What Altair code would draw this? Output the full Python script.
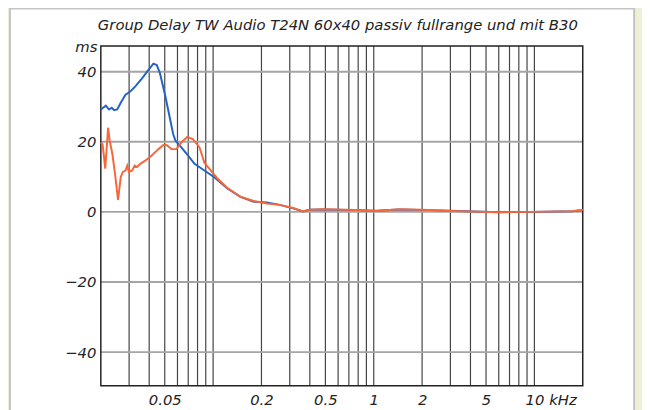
import altair as alt
import pandas as pd

# ---- data ----
blue_f = [0.0200, 0.0215, 0.0225, 0.0234, 0.0242, 0.0253, 0.0266, 0.0285, 0.0306, 0.0328,
          0.0361, 0.0396, 0.0425, 0.0446, 0.0467, 0.0502, 0.0538, 0.0564, 0.0583, 0.0634,
          0.0697, 0.0766, 0.0883, 0.1017, 0.1227, 0.148, 0.179, 0.216, 0.260, 0.315,
          0.363, 0.398, 0.486, 0.777, 1.04, 1.44, 2.23, 2.99, 6.04, 9.65, 17.2, 20.0]
blue_ms = [29.2, 30.3, 29.2, 29.7, 29.0, 29.2, 31.1, 33.4, 34.4, 35.8,
           38.1, 40.5, 42.3, 41.9, 39.5, 33.4, 26.8, 22.2, 20.3, 18.4,
           16.1, 13.7, 11.8, 9.9, 6.7, 4.3, 2.9, 2.7, 2.0, 1.0,
           0.1, 0.6, 0.7, 0.5, 0.3, 0.7, 0.5, 0.3, -0.1, 0.0, 0.2, 0.5]

orange_f = [0.0200, 0.0205, 0.0210, 0.0213, 0.0217, 0.0222, 0.0227, 0.0236, 0.0245, 0.0256,
            0.0266, 0.0274, 0.0285, 0.0292, 0.0299, 0.0313, 0.0325, 0.0336, 0.0352, 0.0378,
            0.0415, 0.0456, 0.0490, 0.0513, 0.0551, 0.0591, 0.0634, 0.0690, 0.0748, 0.0823,
            0.0883, 0.0969, 0.1065, 0.1227, 0.148, 0.179, 0.216, 0.260, 0.315, 0.363,
            0.398, 0.486, 0.777, 1.04, 1.44, 2.23, 2.99, 6.04, 9.65, 17.2, 19.6, 20.0]
orange_ms = [19.8, 19.3, 15.1, 12.3, 17.5, 24.0, 20.3, 16.5, 10.9, 3.4,
             9.9, 11.4, 11.8, 13.2, 11.4, 11.8, 13.2, 12.8, 13.7, 14.6,
             16.1, 17.9, 19.1, 19.1, 17.9, 17.9, 19.8, 21.4, 20.8, 18.4,
             14.0, 11.8, 9.5, 6.8, 4.3, 3.1, 2.4, 2.0, 1.1, 0.1,
             0.6, 0.75, 0.56, 0.28, 0.75, 0.56, 0.28, -0.1, 0.0, 0.2, 0.56, 0.6]

x_grid = [0.03, 0.04, 0.05, 0.06, 0.07, 0.08, 0.09,
          0.1, 0.2, 0.3, 0.4, 0.5, 0.6, 0.7, 0.8, 0.9,
          1, 2, 3, 4, 5, 6, 7, 8, 9, 10]
x_labels = [0.05, 0.2, 0.5, 1, 2, 5, 10]
y_ticks = [40, 20, 0, -20, -40]
title_text = "Group Delay TW Audio T24N 60x40 passiv fullrange und mit B30"
unit_text = "kHz"

W, H = 488, 344
FONT = "DejaVu Sans"
TXT = "#222222"

xscale = alt.Scale(type="log", domain=[0.02, 20], nice=False)
yscale = alt.Scale(domain=[-49.6, 47.3], nice=False, zero=False)

blue_df = pd.DataFrame({"f": blue_f, "ms": blue_ms})
orange_df = pd.DataFrame({"f": orange_f, "ms": orange_ms})
vgrid_df = pd.DataFrame({"f": x_grid})
hgrid_df = pd.DataFrame({"ms": y_ticks})
one = pd.DataFrame({"k": [0]})

panel = alt.Chart(one).mark_rect(fill="white", stroke="#c4c4c4", strokeWidth=2).encode(
    x=alt.value(-92), x2=alt.value(540), y=alt.value(-38), y2=alt.value(420)
)

vgrid = alt.Chart(vgrid_df).mark_rule(color="#444444", strokeWidth=1.2).encode(
    x=alt.X("f:Q", scale=xscale,
            axis=alt.Axis(values=x_labels, labelExpr="format(datum.value, '~g')",
                          title=None, grid=False, ticks=False, domain=False, zindex=2,
                          labelFont=FONT, labelFontStyle="italic", labelFontSize=15,
                          labelColor=TXT, labelPadding=7, labelBaseline="top")),
)

hgrid = alt.Chart(hgrid_df).mark_rule(color="#a5a5a5", strokeWidth=2).encode(
    y=alt.Y("ms:Q", scale=yscale,
            axis=alt.Axis(values=y_ticks, title="ms", grid=False, ticks=False, domain=False,
                          zindex=2,
                          labelFont=FONT, labelFontStyle="italic", labelFontSize=15,
                          labelColor=TXT, labelPadding=5,
                          titleAngle=0, titleAlign="right", titleX=-4, titleY=6,
                          titleBaseline="alphabetic", titleFont=FONT, titleFontStyle="italic",
                          titleFontWeight="normal", titleFontSize=15, titleColor=TXT)),
)

frame = alt.Chart(one).mark_rect(fill=None, stroke="#222222", strokeWidth=1.5).encode(
    x=alt.value(0), x2=alt.value(W), y=alt.value(0), y2=alt.value(H)
)

blue = alt.Chart(blue_df).mark_line(color="#2563c4", strokeWidth=2).encode(
    x=alt.X("f:Q", scale=xscale), y=alt.Y("ms:Q", scale=yscale)
)
orange = alt.Chart(orange_df).mark_line(color="#f4683b", strokeWidth=2).encode(
    x=alt.X("f:Q", scale=xscale), y=alt.Y("ms:Q", scale=yscale)
)

unit = alt.Chart(pd.DataFrame({"f": [10], "t": [unit_text]})).mark_text(
    align="left", baseline="top", dx=15, font=FONT, fontStyle="italic", fontSize=15, color=TXT
).encode(x=alt.X("f:Q", scale=xscale), y=alt.value(H + 7), text="t:N")

title = alt.Chart(pd.DataFrame({"t": [title_text]})).mark_text(
    align="center", baseline="alphabetic", font=FONT, fontStyle="italic", fontSize=15, color=TXT
).encode(x=alt.value(W / 2 - 4), y=alt.value(-16), text="t:N")

chart = alt.layer(panel, vgrid, hgrid, frame, blue, orange, unit, title).properties(
    width=W, height=H,
    autosize=alt.AutoSizeParams(type="none"),
    padding={"left": 94, "top": 36, "right": 60, "bottom": 22},
    background="#eef0d6",
).configure_view(stroke=None)

chart.save("out.html", embed_options={"renderer": "svg", "actions": False})
